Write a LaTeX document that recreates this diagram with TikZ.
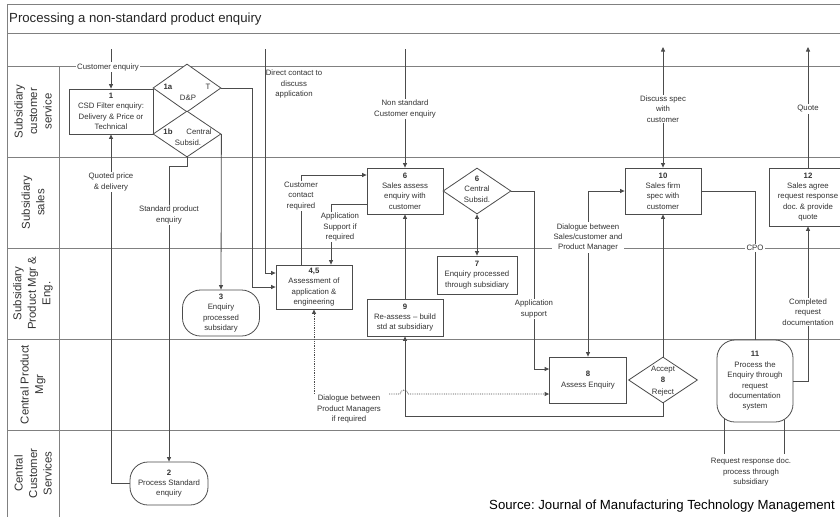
\documentclass[tikz,border=0pt]{standalone}
\usepackage{fontspec}
\setmainfont{Liberation Sans}
\usetikzlibrary{arrows.meta,shapes.geometric,calc}
\newcommand\smalltxt{\fontsize{7.8}{10.4}\selectfont}
\frenchspacing
\begin{document}
\begin{tikzpicture}[x=1pt,y=-1pt,
  lane/.style={draw=black!50,line width=1pt},
  box/.style={draw=black!70,line width=0.8pt,fill=white,inner sep=0pt,align=center,font=\smalltxt,text=black!80},
  roundbox/.style={box,rounded corners=18pt},
  dia/.style={diamond,draw=black!70,line width=0.8pt,fill=white,inner sep=0pt},
  conn/.style={draw=black!70,line width=0.8pt},
  arr/.style={conn,-{Triangle[length=4.5pt,width=4pt]}},
  arrtwo/.style={conn,{Triangle[length=4.5pt,width=4pt]}-{Triangle[length=4.5pt,width=4pt]}},
  dotarr/.style={conn,densely dotted,-{Triangle[length=4.5pt,width=4pt]}},
  lbl/.style={fill=white,inner sep=1.2pt,align=center,font=\smalltxt,text=black!80},
  txt/.style={inner sep=0pt,align=center,font=\smalltxt,text=black!80},
  lanename/.style={rotate=90,align=center,font=\fontsize{11.4}{14.5}\selectfont,text=black!80}
]
\clip (0,0) rectangle (840,517);
\fill[white] (0,0) rectangle (840,517);

% swimlane grid
\draw[lane] (840,4) -- (7,4) -- (7,517);
\draw[lane] (7,33) -- (840,33);
\foreach \yy in {66,157,248,339,430} \draw[lane] (7,\yy) -- (840,\yy);
\draw[lane] (59,66) -- (59,517);

\node[anchor=west,inner sep=0pt,font=\fontsize{13.2}{15}\selectfont,text=black!85] (title) at (9,19) {Processing a non-standard product enquiry};

\node[lanename] (lane1) at (33,111.5) {Subsidiary\\customer\\service};
\node[lanename] (lane2) at (33,202.5) {Subsidiary\\sales};
\node[lanename] (lane3) at (33,293.5) {Subsidiary\\Product Mgr \&\\Eng.};
\node[lanename] (lane4) at (33,384.5) {Central Product\\Mgr};
\node[lanename] (lane5) at (33,473.5) {Central\\Customer\\Services};

% process steps
\node[box,minimum width=84pt,minimum height=45pt] (n1) at (111,111.5) {\textbf{1}\\CSD Filter enquiry:\\Delivery \& Price or\\Technical};
\node[dia,minimum width=68pt,minimum height=48pt] (d1a) at (187,88) {};
\node[dia,minimum width=68pt,minimum height=46pt] (d1b) at (187,134) {};
\node[roundbox,minimum width=78pt,minimum height=43pt] (n2) at (169,483.5) {\textbf{2}\\Process Standard\\enquiry};
\node[roundbox,minimum width=77pt,minimum height=46pt] (n3) at (221,313) {\textbf{3}\\Enquiry\\processed\\subsidary};
\node[box,minimum width=76pt,minimum height=44pt] (n45) at (314,287) {\textbf{4,5}\\Assessment of\\application \&\\engineering};
\node[box,minimum width=76pt,minimum height=46pt] (n6) at (405,191) {\textbf{6}\\Sales assess\\enquiry with\\customer};
\node[dia,minimum width=68pt,minimum height=46pt] (d6) at (477,191) {};
\node[box,minimum width=80pt,minimum height=38pt] (n7) at (477,275) {\textbf{7}\\Enquiry processed\\through subsidiary};
\node[box,minimum width=76pt,minimum height=37pt] (n9) at (405,317.5) {\textbf{9}\\Re-assess -- build\\std at subsidiary};
\node[box,minimum width=77pt,minimum height=46pt] (n8) at (588,380) {\textbf{8}\\Assess Enquiry};
\node[dia,minimum width=69pt,minimum height=46pt] (d8) at (663,380) {};
\node[box,minimum width=76pt,minimum height=46pt] (n10) at (663,191) {\textbf{10}\\Sales firm\\spec with\\customer};
\node[roundbox,minimum width=76pt,minimum height=82pt] (n11) at (755,381) {\textbf{11}\\Process the\\Enquiry through\\request\\documentation\\system};
\node[box,minimum width=78pt,minimum height=58pt] (n12) at (808,197) {\textbf{12}\\Sales agree\\request response\\doc. \& provide\\quote};

% decision texts
\node[txt] (t1a) at (168,87) {\textbf{1a}};
\node[txt] (t1aT) at (208,87) {T};
\node[txt] (t1aDP) at (188,98) {D\&P};
\node[txt] (t1b) at (168,132) {\textbf{1b}};
\node[txt] (t1bC) at (199,132) {Central};
\node[txt] (t1bS) at (188,143) {Subsid.};
\node[txt] (t6) at (477,189) {\textbf{6}\\Central\\Subsid.};
\node[txt,font=\fontsize{7.8}{11.8}\selectfont] (t8) at (663,381) {Accept\\\textbf{8}\\Reject};

% bend points and free ends
\coordinate (ce0) at (111,49);
\coordinate (dc0) at (265,49);
\coordinate (dc1) at (265,273);
\coordinate (ya) at (252,287);
\coordinate (ns0) at (405,49);
\coordinate (cc) at (301,175);
\coordinate (as) at (331,204);
\coordinate (ap) at (534,369);
\coordinate (dp1) at (314,394);
\coordinate (dp2) at (389,394);
\coordinate (ds) at (588,191);
\coordinate (dsp) at (663,47);
\coordinate (rj) at (663,416);
\coordinate (cpo) at (755,191);
\coordinate (qt) at (808,47);
\coordinate (rr1) at (724,418);
\coordinate (rr2) at (784,419.5);
\coordinate (rr1e) at (724,454);
\coordinate (rr2e) at (784,454);

% connectors
\draw[arr] (ce0) -- (n1.north);
\draw[arr] (n2.west) -| (n1.south);
\draw[arr] (d1b.south) -- ++(0,9) -| (n2.north);
\draw[arr] (d1b.east) -- (n3.north);
\draw[arr] (d1a.east) -| (ya) -- (ya -| n45.west);
\draw[arr] (dc0) -- (dc1) -- (dc1 -| n45.west);
\draw[arr] (ns0) -- (n6.north);
\draw[arr] (cc |- n45.north) -- (cc) -- (cc -| n6.west);
\draw[arr] (as -| n6.west) -- (as) -- (as |- n45.north);
\draw[arr] (n9.north) -- (n6.south);
\draw[arrtwo] (d6.south) -- (n7.north);
\draw[arr] (d6.east) -| (ap) -- (ap -| n8.west);
\draw[dotarr] (dp1) -- (n45.south);
\draw[dotarr] (dp2) -- (400,394) arc (180:360:4) -- (dp2 -| n8.west);
\draw[arrtwo] (n8.north) -- (ds) -- (ds -| n10.west);
\draw[arr] (d8.north) -- (n10.south);
\draw[arrtwo] (n10.north) -- (dsp);
\draw[arr] (d8.south) -- (rj) -| (n9.south);
\draw[conn] (n10.east) -- (cpo) -- (n11.north);
\draw[arr] (n11.east) -| (n12.south);
\draw[arr] (n12.north) -- (qt);
\draw[conn] (rr1) -- (rr1e);
\draw[conn] (rr2) -- (rr2e);

% connector labels
\node[lbl] (lce) at (108,67) {Customer enquiry};
\node[lbl] (lqp) at (111,182) {Quoted price\\\& delivery};
\node[lbl] (lsp) at (169,215) {Standard product\\enquiry};
\node[txt] (ldc) at (294,84) {Direct contact to\\discuss\\application};
\node[lbl] (lns) at (405,109) {Non standard\\Customer enquiry};
\node[lbl] (lcc) at (301,196) {Customer\\contact\\required};
\node[lbl] (las) at (340,227) {Application\\Support if\\required};
\node[lbl] (lap) at (534,309) {Application\\support};
\node[lbl] (ldp) at (349,409) {Dialogue between\\Product Managers\\if required};
\node[lbl] (lds) at (588,237.5) {Dialogue between\\Sales/customer and\\Product Manager};
\node[lbl] (lsc) at (663,109) {Discuss spec\\with\\customer};
\node[lbl] (lq) at (808,109) {Quote};
\node[lbl] (lcpo) at (755,248) {CPO};
\node[lbl] (lcr) at (808,312) {Completed\\request\\documentation};
\node[lbl] (lrr) at (751,472) {Request response doc.\\process through\\subsidiary};

\node[anchor=east,inner sep=0pt,font=\fontsize{13.2}{15}\selectfont] (src) at (835,506) {Source: Journal of Manufacturing Technology Management};
\end{tikzpicture}
\end{document}
